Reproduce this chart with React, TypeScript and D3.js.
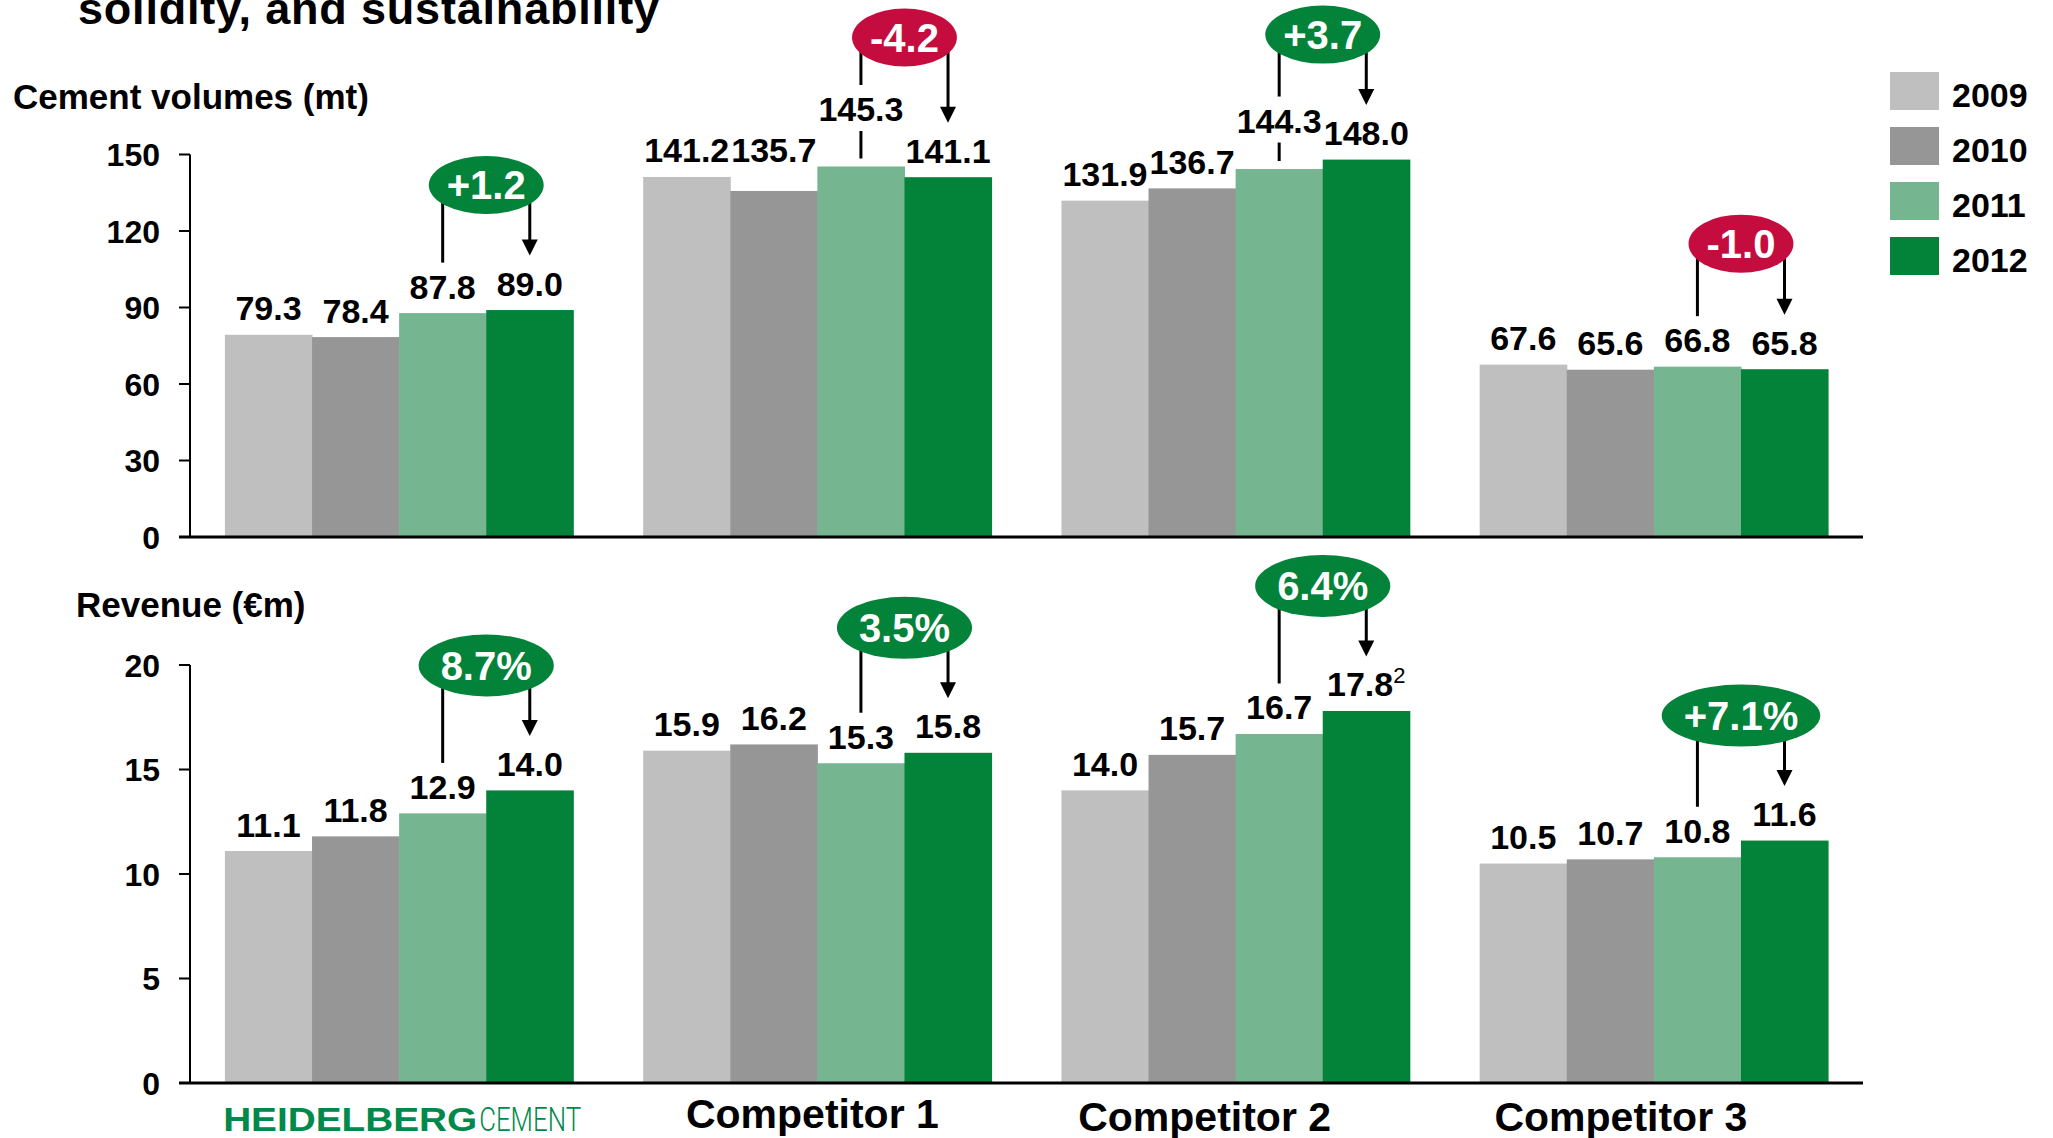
import React from 'react';
import * as d3 from 'd3';

const companies = ['HEIDELBERGCEMENT', 'Competitor 1', 'Competitor 2', 'Competitor 3'];
const years = ['2009', '2010', '2011', '2012'];
const yearColors = ['#BFBFBF', '#969696', '#75B690', '#03823A'];

const volumes2009 = [79.3, 141.2, 131.9, 67.6];
const volumes2010 = [78.4, 135.7, 136.7, 65.6];
const volumes2011 = [87.8, 145.3, 144.3, 66.8];
const volumes2012 = [89.0, 141.1, 148.0, 65.8];

const revenue2009 = [11.1, 15.9, 14.0, 10.5];
const revenue2010 = [11.8, 16.2, 15.7, 10.7];
const revenue2011 = [12.9, 15.3, 16.7, 10.8];
const revenue2012 = [14.0, 15.8, 17.8, 11.6];

const volumeChange = ['+1.2', '-4.2', '+3.7', '-1.0'];
const revenueChange = ['8.7%', '3.5%', '6.4%', '+7.1%'];
const revenueFootnote = ['', '', '2', ''];

const volumeTicks = [0, 30, 60, 90, 120, 150];
const revenueTicks = [0, 5, 10, 15, 20];

// layout tweaks (px) – not data
const volumeLabelLift = [[0, 0, 0, 0], [0, 14, 31, 0], [0, 0, 22, 0], [0, 0, 0, 0]];
const revenueLabelLift = [[0, 0, 0, 0], [0, 0, 0, 0], [0, 0, 0, 0], [0, 0, 0, 0]];
const volumeBubbleLift = [0, 4, 0, -2];
const revenueBubbleLift = [0, 0, 0, 0];
const categoryShift = [3, -5, -31, -33];

const FONT = '"Liberation Sans", Arial, Helvetica, sans-serif';
const GREEN = '#03823A';
const RED = '#C40D3E';

const glyphW: Record<string, number> = { '+': 0.584, '-': 0.333, '.': 0.278, '%': 0.889 };
const textWidth = (s: string, size: number) =>
  s.split('').reduce((a, c) => a + (glyphW[c] ?? 0.556), 0) * size;

const X0 = 190;
const X1 = 1863;

const xOuter = d3.scaleBand<string>().domain(companies).range([X0, X1]).paddingInner(0.167).paddingOuter(0.0835);
const xInner = d3.scaleBand<string>().domain(years).range([0, xOuter.bandwidth()]).padding(0);

type PanelProps = {
  values: number[][]; // [year][company]
  yScale: d3.ScaleLinear<number, number>;
  ticks: number[];
  changes: string[];
  lifts: number[][];
  bubbleLift: number[];
  footnotes?: string[];
  bubblePad: number;
  ry: number;
};

const GAP = 14.5;
const CAP = 25;

function Panel({ values, yScale, ticks, changes, lifts, bubbleLift, footnotes, bubblePad, ry }: PanelProps) {
  const y0 = yScale(0);
  const yTop = yScale(ticks[ticks.length - 1]);
  const labelSize = 34;
  return (
    <g>
      {companies.map((c, ci) => (
        <g key={c}>
          {years.map((yr, yi) => {
            const v = values[yi][ci];
            const x = (xOuter(c) ?? 0) + (xInner(yr) ?? 0);
            return (
              <rect key={yr} x={x} y={yScale(v)} width={xInner.bandwidth() + 0.5} height={y0 - yScale(v)} fill={yearColors[yi]} />
            );
          })}
        </g>
      ))}
      <line x1={X0} x2={X0} y1={yTop} y2={y0} stroke="#000" strokeWidth={2} />
      {ticks.map((t) => (
        <g key={t}>
          <line x1={X0 - 11} x2={X0} y1={yScale(t)} y2={yScale(t)} stroke="#000" strokeWidth={2} />
          <text x={160} y={yScale(t)} dy="0.36em" textAnchor="end" fontFamily={FONT} fontWeight="bold" fontSize={32} fill="#000">
            {t}
          </text>
        </g>
      ))}
      <line x1={X0 - 11} x2={X1} y1={y0} y2={y0} stroke="#000" strokeWidth={3} />
      {companies.map((c, ci) => (
        <g key={c}>
          {years.map((yr, yi) => {
            const v = values[yi][ci];
            const cx = (xOuter(c) ?? 0) + (xInner(yr) ?? 0) + xInner.bandwidth() / 2;
            const base = yScale(v) - GAP - lifts[ci][yi];
            const fn = footnotes && yi === 3 ? footnotes[ci] : '';
            return (
              <g key={yr}>
                <text x={cx} y={base} textAnchor="middle" fontFamily={FONT} fontWeight="bold" fontSize={labelSize} fill="#000">
                  {v.toFixed(1)}
                  {fn ? (
                    <tspan fontWeight="normal" fontSize={22} dy={-13}>
                      {fn}
                    </tspan>
                  ) : null}
                </text>
                {yi === 2 && lifts[ci][yi] > 0 ? (
                  <line x1={cx} x2={cx} y1={base + 10} y2={yScale(v) - 8} stroke="#000" strokeWidth={3} />
                ) : null}
              </g>
            );
          })}
        </g>
      ))}
      {companies.map((c, ci) => {
        const v11 = values[2][ci];
        const v12 = values[3][ci];
        const xa = (xOuter(c) ?? 0) + (xInner('2011') ?? 0) + xInner.bandwidth() / 2;
        const xb = (xOuter(c) ?? 0) + (xInner('2012') ?? 0) + xInner.bandwidth() / 2;
        const cx = (xa + xb) / 2;
        const cy = yScale(Math.max(v11, v12)) - 125 - bubbleLift[ci];
        const topA = yScale(v11) - GAP - lifts[ci][2] - CAP;
        const topB = yScale(v12) - GAP - lifts[ci][3] - CAP;
        const endA = topA - 11;
        const tip = topB - 15;
        const label = changes[ci];
        const rx = textWidth(label, 40) / 2 + bubblePad;
        const fill = label.startsWith('-') ? RED : GREEN;
        return (
          <g key={c}>
            <line x1={xa} x2={xa} y1={cy} y2={endA} stroke="#000" strokeWidth={3} />
            <line x1={xb} x2={xb} y1={cy} y2={tip - 12} stroke="#000" strokeWidth={3} />
            <polygon points={`${xb - 8},${tip - 16} ${xb + 8},${tip - 16} ${xb},${tip}`} fill="#000" />
            <ellipse cx={cx} cy={cy} rx={rx} ry={ry} fill={fill} />
            <text x={cx} y={cy} dy="0.36em" textAnchor="middle" fontFamily={FONT} fontWeight="bold" fontSize={40} fill="#fff">
              {label}
            </text>
          </g>
        );
      })}
    </g>
  );
}

export default function App() {
  const yTopScale = d3.scaleLinear().domain([0, 150]).range([537, 154.5]);
  const yBottomScale = d3.scaleLinear().domain([0, 20]).range([1083, 665]);
  const volumes = [volumes2009, volumes2010, volumes2011, volumes2012];
  const revenue = [revenue2009, revenue2010, revenue2011, revenue2012];

  const hcCenter = (xOuter(companies[0]) ?? 0) + xOuter.bandwidth() / 2 + categoryShift[0];
  const hcLeft = hcCenter - 179;

  return (
    <svg
      width={2053}
      height={1138}
      viewBox="0 0 2053 1138"
      style={{ position: 'absolute', left: 0, top: 0, background: '#fff' }}
    >
      <rect x={0} y={0} width={2053} height={1138} fill="#fff" />
      <text x={78} y={24} fontFamily={FONT} fontWeight="bold" fontSize={45} fill="#000" textLength={581} lengthAdjust="spacing">
        solidity, and sustainability
      </text>
      <text x={13} y={109} fontFamily={FONT} fontWeight="bold" fontSize={35} fill="#000">
        Cement volumes (mt)
      </text>
      <text x={76} y={617} fontFamily={FONT} fontWeight="bold" fontSize={35} fill="#000">
        Revenue (€m)
      </text>

      <Panel
        values={volumes}
        yScale={yTopScale}
        ticks={volumeTicks}
        changes={volumeChange}
        lifts={volumeLabelLift}
        bubbleLift={volumeBubbleLift}
        bubblePad={18}
        ry={29}
      />
      <Panel
        values={revenue}
        yScale={yBottomScale}
        ticks={revenueTicks}
        changes={revenueChange}
        lifts={revenueLabelLift}
        bubbleLift={revenueBubbleLift}
        footnotes={revenueFootnote}
        bubblePad={22}
        ry={31}
      />

      {years.map((yr, i) => (
        <g key={yr} transform={`translate(1890, ${72 + i * 55})`}>
          <rect x={0} y={0} width={49} height={38} fill={yearColors[i]} />
          <text x={62} y={35} fontFamily={FONT} fontWeight="bold" fontSize={34} fill="#000">
            {yr}
          </text>
        </g>
      ))}

      {/* HeidelbergCement logo text */}
      <text x={hcLeft} y={1131} fontFamily={FONT} fontWeight="bold" fontSize={34} fill="#00894A" textLength={254} lengthAdjust="spacingAndGlyphs">
        HEIDELBERG
      </text>
      <text x={hcLeft + 256} y={1131} fontFamily='Roboto, "Liberation Sans", sans-serif' fontWeight={300} fontSize={34} fill="#00894A" textLength={102} lengthAdjust="spacingAndGlyphs">
        CEMENT
      </text>

      {companies.slice(1).map((c, j) => {
        const i = j + 1;
        const cx = (xOuter(c) ?? 0) + xOuter.bandwidth() / 2 + categoryShift[i];
        return (
          <text key={c} x={cx} y={i === 1 ? 1128 : 1131} textAnchor="middle" fontFamily={FONT} fontWeight="bold" fontSize={41} fill="#000">
            {c}
          </text>
        );
      })}
    </svg>
  );
}
